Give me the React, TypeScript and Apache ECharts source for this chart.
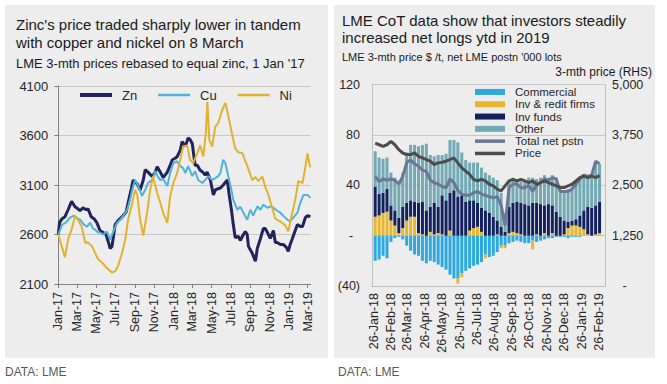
import { useEffect, useRef } from "react";
import * as echarts from "echarts";

const FONT = '"Liberation Sans", Arial, Helvetica, sans-serif';
const MONTHS = ["Jan", "Feb", "Mar", "Apr", "May", "Jun", "Jul", "Aug", "Sep", "Oct", "Nov", "Dec"];

// ---------- Left chart: LME 3-mth prices rebased (day offset from 1 Jan 2017, value) ----------
const leftBaseDate = "2017-01-01";
const leftAxisEnd = "2019-03-11";
const leftTickDates = [
  "2017-01-01", "2017-03-01", "2017-05-01", "2017-07-01", "2017-09-01", "2017-11-01",
  "2018-01-01", "2018-03-01", "2018-05-01", "2018-07-01", "2018-09-01", "2018-11-01",
  "2019-01-01", "2019-03-01",
];
const leftSeriesNames = ["Zn", "Cu", "Ni"];

const zincPoints = [
  [0, 2600], [4, 2720], [12, 2760], [21, 2780], [31, 2850], [42, 2935], [53, 2880], [62, 2860],
  [69, 2840], [78, 2870], [88, 2850], [94, 2860], [104, 2780], [113, 2760], [122, 2720], [132, 2640],
  [142, 2620], [151, 2600], [158, 2530], [164, 2460], [170, 2480], [180, 2700], [189, 2740], [196, 2760],
  [205, 2790], [215, 2830], [221, 2920], [231, 3060], [237, 3150], [250, 3110], [259, 3050], [269, 3150],
  [275, 3255], [284, 3230], [297, 3185], [307, 3230], [313, 3285], [323, 3230], [332, 3175], [345, 3230],
  [354, 3300], [361, 3355], [370, 3370], [376, 3385], [386, 3450], [392, 3540], [402, 3490], [411, 3575],
  [417, 3560], [424, 3520], [433, 3300], [440, 3300], [449, 3250], [456, 3235], [465, 3200], [471, 3230],
  [481, 3155], [491, 3000], [497, 3050], [503, 3060], [513, 3070], [522, 3100], [535, 3150], [541, 3000],
  [548, 2850], [554, 2700], [560, 2570], [570, 2580], [576, 2540], [586, 2600], [592, 2630], [598, 2600],
  [602, 2480], [614, 2410], [624, 2330], [630, 2460], [640, 2560], [649, 2660], [655, 2660], [662, 2620],
  [671, 2560], [681, 2640], [687, 2520], [693, 2520], [703, 2500], [712, 2500], [722, 2470], [728, 2430],
  [734, 2500], [741, 2560], [750, 2640], [757, 2700], [766, 2680], [773, 2680], [782, 2770], [789, 2790],
  [798, 2780],
];

const copperPoints = [
  [0, 2600], [12, 2700], [24, 2720], [37, 2770], [50, 2790], [62, 2760], [69, 2750], [81, 2700],
  [91, 2680], [101, 2720], [110, 2660], [116, 2650], [126, 2620], [132, 2620], [142, 2600], [154, 2630],
  [164, 2550], [173, 2620], [186, 2720], [196, 2750], [205, 2785], [218, 2850], [227, 2950], [234, 3050],
  [243, 3150], [253, 3090], [265, 2990], [275, 3050], [284, 3120], [297, 3150], [307, 3240], [316, 3180],
  [323, 3150], [332, 3160], [345, 3090], [354, 3220], [364, 3320], [376, 3340], [386, 3290], [395, 3270],
  [402, 3220], [411, 3290], [424, 3190], [433, 3240], [443, 3150], [456, 3120], [465, 3150], [475, 3190],
  [487, 3150], [497, 3170], [506, 3190], [513, 3220], [522, 3355], [529, 3320], [538, 3190], [548, 3050],
  [554, 2950], [567, 2850], [576, 2880], [586, 2820], [598, 2750], [608, 2850], [617, 2790], [630, 2885],
  [640, 2850], [649, 2900], [662, 2870], [671, 2885], [681, 2870], [693, 2840], [703, 2820], [712, 2790],
  [725, 2750], [734, 2735], [744, 2770], [757, 2820], [766, 2920], [776, 3000], [789, 3000], [798, 2970],
];

const nickelPoints = [
  [0, 2600], [11, 2480], [21, 2370], [31, 2550], [42, 2650], [53, 2785], [62, 2750], [74, 2680],
  [85, 2516], [94, 2520], [107, 2480], [116, 2415], [126, 2350], [139, 2315], [148, 2280], [158, 2248],
  [170, 2215], [180, 2230], [189, 2280], [202, 2415], [212, 2549], [221, 2751], [234, 2919], [243, 3053],
  [250, 3000], [259, 2751], [269, 2590], [281, 2818], [291, 3053], [300, 3187], [313, 3019], [323, 2919],
  [332, 2818], [345, 2717], [354, 2985], [364, 3120], [376, 3221], [386, 3355], [395, 3489], [408, 3500],
  [417, 3355], [427, 3322], [440, 3422], [449, 3500], [459, 3389], [467, 3623], [472, 3940], [478, 3556],
  [487, 3489], [497, 3690], [506, 3724], [519, 3858], [529, 3930], [538, 3800], [551, 3600], [560, 3470],
  [570, 3430], [583, 3420], [592, 3340], [602, 3260], [614, 3150], [624, 3180], [633, 3140], [646, 3187],
  [655, 3080], [665, 3000], [678, 2860], [687, 2760], [697, 2740], [709, 2717], [719, 2690], [728, 2633],
  [741, 2825], [750, 2950], [760, 3140], [773, 3120], [782, 3280], [789, 3420], [794, 3330], [798, 3280],
];

// ---------- Right chart: LME CoT weekly net positions ('000 lots) and price ($/t) ----------
const rightAxisStart = "2018-01-23";
const rightAxisEnd = "2019-03-08";
const rightTickDates = [
  "2018-01-26", "2018-02-26", "2018-03-26", "2018-04-26", "2018-05-26", "2018-06-26", "2018-07-26",
  "2018-08-26", "2018-09-26", "2018-10-26", "2018-11-26", "2018-12-26", "2019-01-26", "2019-02-26",
];
const weekDates = [
  "2018-01-26", "2018-02-02", "2018-02-09", "2018-02-16", "2018-02-23", "2018-03-02", "2018-03-09",
  "2018-03-16", "2018-03-23", "2018-03-30", "2018-04-06", "2018-04-13", "2018-04-20", "2018-04-27",
  "2018-05-04", "2018-05-11", "2018-05-18", "2018-05-25", "2018-06-01", "2018-06-08", "2018-06-15",
  "2018-06-22", "2018-06-29", "2018-07-06", "2018-07-13", "2018-07-20", "2018-07-27", "2018-08-03",
  "2018-08-10", "2018-08-17", "2018-08-24", "2018-08-31", "2018-09-07", "2018-09-14", "2018-09-21",
  "2018-09-28", "2018-10-05", "2018-10-12", "2018-10-19", "2018-10-26", "2018-11-02", "2018-11-09",
  "2018-11-16", "2018-11-23", "2018-11-30", "2018-12-07", "2018-12-14", "2018-12-21", "2018-12-28",
  "2019-01-04", "2019-01-11", "2019-01-18", "2019-01-25", "2019-02-01", "2019-02-08", "2019-02-15",
  "2019-02-22", "2019-03-01",
];
const commercial = [
  -20, -19, -16, -18, -5, -2, -1, -3, -8, -12, -15, -16, -20, -22, -20, -21, -23, -25, -27, -31,
  -34, -34, -30, -28, -26, -24, -23, -21, -15, -17, -16, -13, -8, -8, -6, -5, -4, -5, -6, -6,
  -4, -5, -4, -3, -2, -2, -1, -1, -1, -2, -1, -1, -1, 0, 0, 0, 0, 0,
];
const invCreditFirms = [
  15, 16, 18, 19, 12, 8, 2, 6, 12, 15, 15, 2, 1, 0, 3, 1, 2, 1, 0, 4,
  0, -4, -3, 0, 4, 6, 7, 3, -3, 0, 0, 1, -2, -2, 2, 3, 2, 1, 0, 0,
  -7, 1, 0, 2, 0, 2, 0, 0, 1, 6, 8, 8, 7, 5, 1, 0, 1, 2,
];
const invFunds = [
  24, 17, 16, 18, 12, 12, 12, 17, 14, 13, 12, 24, 26, 20, 20, 25, 21, 31, 28, 30,
  36, 31, 32, 27, 24, 22, 19, 19, 20, 18, 15, 11, 7, 3, 21, 23, 25, 25, 25, 24,
  26, 25, 25, 22, 25, 22, 19, 15, 11, 5, 4, 5, 9, 15, 22, 22, 23, 25,
];
const other = [
  28, 29, 27, 25, 26, 26, 28, 27, 40, 44, 45, 45, 45, 53, 41, 37, 41, 32, 37, 42,
  40, 43, 34, 33, 30, 30, 32, 32, 30, 30, 31, 32, 27, 15, 21, 20, 18, 17, 19, 22,
  20, 19, 21, 24, 21, 24, 27, 21, 24, 26, 26, 29, 30, 28, 24, 26, 35, 30,
];
const price = [
  3546, 3505, 3464, 3505, 3587, 3505, 3382, 3300, 3260, 3260, 3300, 3219, 3178, 3137, 3096, 3015,
  3055, 3070, 3096, 3137, 3178, 3055, 2933, 2851, 2770, 2647, 2606, 2647, 2606, 2525, 2484, 2402,
  2361, 2484, 2606, 2647, 2606, 2647, 2606, 2565, 2606, 2525, 2565, 2606, 2565, 2525, 2484, 2443,
  2443, 2484, 2525, 2606, 2688, 2729, 2688, 2729, 2688, 2745,
];
const barSeriesNames = ["Commercial", "Inv & redit firms", "Inv funds", "Other"];
const lineSeriesNames = ["Total net pstn", "Price"];

// ---------- helpers ----------
const DAY = 86400000;
function ts(iso: string): number {
  const [y, m, d] = iso.split("-").map(Number);
  return Date.UTC(y, m - 1, d);
}
const leftBase = ts(leftBaseDate);
const toLeftData = (pts: number[][]) => pts.map(([d, v]) => [leftBase + d * DAY, v]);
const weekTs = weekDates.map(ts);
const pair = (vals: number[]) => vals.map((v, i) => [weekTs[i], v]);
const totalNet = commercial.map((c, i) => c + invCreditFirms[i] + invFunds[i] + other[i]);

const yy = (d: Date) => String(d.getUTCFullYear()).slice(2);
const fmtMonth = (v: number) => {
  const d = new Date(v);
  return `${MONTHS[d.getUTCMonth()]}-${yy(d)}`;
};
const fmtDay = (v: number) => {
  const d = new Date(v);
  return `${String(d.getUTCDate()).padStart(2, "0")}-${MONTHS[d.getUTCMonth()]}-${yy(d)}`;
};

const C_ZN = "#23235c";
const C_CU = "#4db3d8";
const C_NI = "#e1b22f";
const C_COMM = "#2ea9df";
const C_INVC = "#e7b62e";
const C_FUNDS = "#13205e";
const C_OTHER = "#72a9b4";
const C_TOTAL = "#6b7794";
const C_PRICE = "#4d4d4d";
const AXIS = "#808080";
const GRID = "#c6c6c6";
const TXT = "#262626";

export default function App() {
  const ref = useRef<HTMLDivElement>(null);

  useEffect(() => {
    if (!ref.current) return;
    const chart = echarts.init(ref.current, undefined, { renderer: "svg" });
    const leftTicks = leftTickDates.map(ts);
    const rightTicks = rightTickDates.map(ts);
    const rMin = ts(rightAxisStart);
    const rMax = ts(rightAxisEnd);

    const text = (t: string, x: number, y: number, size: number, opts: any = {}) => ({
      type: "text",
      x,
      y,
      silent: true,
      style: {
        text: t,
        fontSize: size,
        fontFamily: FONT,
        fill: opts.fill || "#1a1a1a",
        textAlign: opts.align || "left",
        textVerticalAlign: "middle",
      },
    });

    const legendBase = {
      padding: 0,
      selectedMode: false,
      icon: "rect",
    };

    const option: any = {
      animation: false,
      backgroundColor: "transparent",
      textStyle: { fontFamily: FONT },
      graphic: [
        text("Zinc's price traded sharply lower in tandem", 16, 24, 15),
        text("with copper and nickel on 8 March", 16, 42, 15),
        text("LME 3-mth prices rebased to equal zinc, 1 Jan '17", 16, 63.5, 13),
        text("LME CoT data show that investors steadily", 342, 20.5, 15),
        text("increased net longs ytd in 2019", 342, 37, 15),
        text("LME 3-mth price $ /t, net LME postn '000 lots", 342, 56.5, 11),
        text("3-mth price (RHS)", 652, 71.5, 12, { align: "right" }),
        text("DATA: LME", 5, 372, 12, { fill: "#595959" }),
        text("DATA: LME", 338, 372, 12, { fill: "#595959" }),
      ],
      legend: [
        {
          ...legendBase,
          data: [leftSeriesNames[0]],
          left: 80,
          top: 88,
          itemWidth: 32,
          itemHeight: 4,
          textStyle: { fontSize: 13, lineHeight: 14, color: TXT, fontFamily: FONT, padding: [0, 0, 0, 5] },
        },
        {
          ...legendBase,
          data: leftSeriesNames.slice(1),
          left: 158,
          top: 88,
          itemWidth: 32,
          itemHeight: 2.5,
          itemGap: 21,
          textStyle: { fontSize: 13, lineHeight: 14, color: TXT, fontFamily: FONT, padding: [0, 0, 0, 5] },
        },
        {
          ...legendBase,
          data: barSeriesNames,
          orient: "vertical",
          left: 475,
          top: 85.8,
          itemWidth: 30,
          itemHeight: 6,
          itemGap: 0,
          textStyle: { fontSize: 11.5, lineHeight: 12.3, color: TXT, fontFamily: FONT, padding: [0, 0, 0, 5] },
        },
        {
          ...legendBase,
          data: lineSeriesNames,
          orient: "vertical",
          left: 475,
          top: 85.8 + 4 * 12.3,
          itemWidth: 30,
          itemHeight: 3.5,
          itemGap: 0,
          textStyle: { fontSize: 11.5, lineHeight: 12.3, color: TXT, fontFamily: FONT, padding: [0, 0, 0, 5] },
        },
      ],
      grid: [
        { left: 58.3, top: 86, width: 252.4, height: 198, containLabel: false },
        { left: 372, top: 84.5, width: 233, height: 201.5, containLabel: false },
      ],
      xAxis: [
        {
          type: "value",
          gridIndex: 0,
          min: leftBase,
          max: ts(leftAxisEnd),
          axisLine: { show: true, onZero: false, lineStyle: { color: AXIS, width: 1 } },
          axisTick: { show: true, customValues: leftTicks, length: 4, lineStyle: { color: AXIS } },
          axisLabel: {
            customValues: leftTicks,
            rotate: 90,
            margin: 8,
            fontSize: 12.5,
            color: TXT,
            fontFamily: FONT,
            formatter: fmtMonth,
          },
          splitLine: { show: false },
        },
        {
          // time axis carrying the weekly bars and lines
          type: "time",
          gridIndex: 1,
          min: rMin,
          max: rMax,
          show: false,
          splitLine: { show: false },
        },
        {
          // same span, used only for the monthly date labels
          type: "value",
          gridIndex: 1,
          min: rMin,
          max: rMax,
          position: "bottom",
          axisLine: { show: true, onZero: false, lineStyle: { color: "#bfbfbf" } },
          axisTick: { show: false, customValues: rightTicks },
          axisLabel: {
            customValues: rightTicks,
            rotate: 90,
            margin: 7,
            fontSize: 12.5,
            color: TXT,
            fontFamily: FONT,
            formatter: fmtDay,
          },
          splitLine: { show: false },
        },
      ],
      yAxis: [
        {
          type: "value",
          gridIndex: 0,
          min: 2100,
          max: 4100,
          interval: 500,
          axisLine: { show: true, lineStyle: { color: AXIS } },
          axisTick: { show: true, length: 4, lineStyle: { color: AXIS } },
          axisLabel: { fontSize: 13, color: TXT, margin: 10, fontFamily: FONT, formatter: (v: number) => String(v) },
          splitLine: { show: true, lineStyle: { color: GRID } },
        },
        {
          type: "value",
          gridIndex: 1,
          position: "left",
          min: -40,
          max: 120,
          interval: 40,
          axisLine: { show: true, onZero: false, lineStyle: { color: "#bfbfbf" } },
          axisTick: { show: false },
          axisLabel: {
            fontSize: 12.5,
            color: TXT,
            margin: 12,
            fontFamily: FONT,
            formatter: (v: number) => (v < 0 ? `(${-v})` : v === 0 ? "-  " : `${v}`),
          },
          splitLine: { show: true, lineStyle: { color: GRID } },
        },
        {
          type: "value",
          gridIndex: 1,
          position: "right",
          min: 0,
          max: 5000,
          interval: 1250,
          axisLine: { show: true, onZero: false, lineStyle: { color: "#bfbfbf" } },
          axisTick: { show: false },
          axisLabel: {
            fontSize: 12.5,
            color: TXT,
            margin: 7,
            fontFamily: FONT,
            formatter: (v: number) => (v === 0 ? "   -" : v.toLocaleString("en-US")),
          },
          splitLine: { show: false },
        },
      ],
      series: [
        {
          type: "line",
          name: "Zn",
          xAxisIndex: 0,
          yAxisIndex: 0,
          data: toLeftData(zincPoints),
          symbol: "none",
          lineStyle: { width: 3, color: C_ZN },
          itemStyle: { color: C_ZN },
        },
        {
          type: "line",
          name: "Cu",
          xAxisIndex: 0,
          yAxisIndex: 0,
          data: toLeftData(copperPoints),
          symbol: "none",
          lineStyle: { width: 2, color: C_CU },
          itemStyle: { color: C_CU },
        },
        {
          type: "line",
          name: "Ni",
          xAxisIndex: 0,
          yAxisIndex: 0,
          data: toLeftData(nickelPoints),
          symbol: "none",
          lineStyle: { width: 2, color: C_NI },
          itemStyle: { color: C_NI },
        },
        ...[
          [barSeriesNames[0], commercial, C_COMM],
          [barSeriesNames[1], invCreditFirms, C_INVC],
          [barSeriesNames[2], invFunds, C_FUNDS],
          [barSeriesNames[3], other, C_OTHER],
        ].map(([name, vals, color]: any) => ({
          type: "bar",
          name,
          xAxisIndex: 1,
          yAxisIndex: 1,
          stack: "cot",
          barWidth: 3,
          data: pair(vals),
          itemStyle: { color },
        })),
        {
          type: "line",
          name: lineSeriesNames[0],
          xAxisIndex: 1,
          yAxisIndex: 1,
          data: pair(totalNet),
          symbol: "none",
          lineStyle: { width: 3, color: C_TOTAL },
          itemStyle: { color: C_TOTAL },
        },
        {
          type: "line",
          name: lineSeriesNames[1],
          xAxisIndex: 1,
          yAxisIndex: 2,
          data: pair(price),
          symbol: "none",
          lineStyle: { width: 3, color: C_PRICE },
          itemStyle: { color: C_PRICE },
        },
      ],
    };

    chart.setOption(option);
    return () => chart.dispose();
  }, []);

  return (
    <div style={{ position: "fixed", left: 0, top: 0, width: 667, height: 384, background: "#ffffff" }}>
      <div style={{ position: "absolute", left: 5, top: 5, width: 323, height: 353, background: "#ededed" }} />
      <div style={{ position: "absolute", left: 334, top: 5, width: 321, height: 353, background: "#ededed" }} />
      <div ref={ref} style={{ position: "absolute", left: 0, top: 0, width: 667, height: 384 }} />
    </div>
  );
}
